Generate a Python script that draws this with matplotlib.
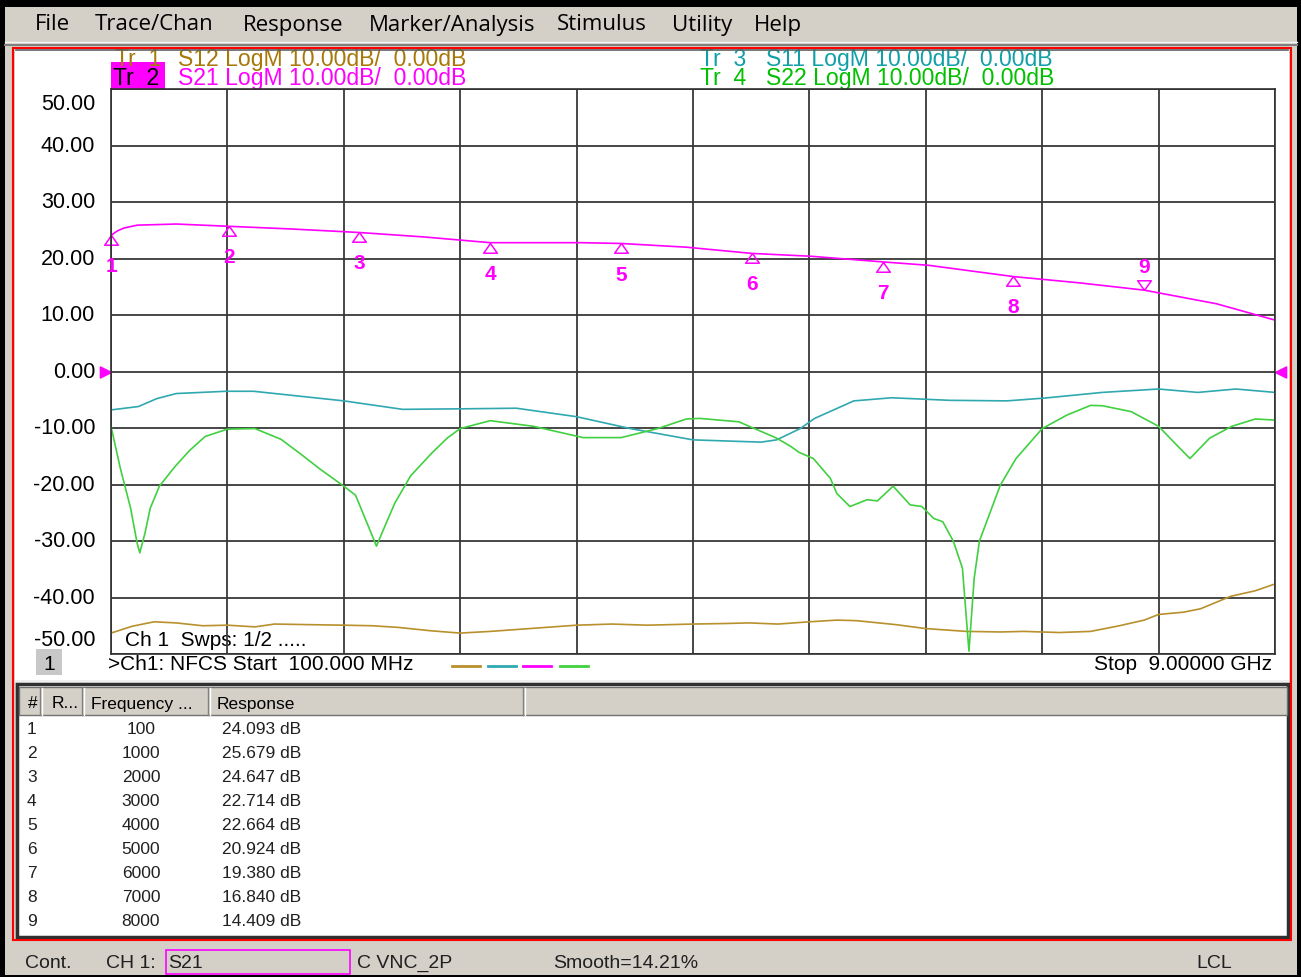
import matplotlib.pyplot as plt
from matplotlib.patches import Rectangle
from matplotlib.path import Path
import numpy as np

W, H = 1301, 978

# stimulus / scale
start_ghz = 0.1
stop_ghz = 9.0
ref_db = 0.0
db_per_div = 10.0
y_ticks = [50, 40, 30, 20, 10, 0, -10, -20, -30, -40, -50]

# S21 trace (magenta)
s21_ghz = [0.1, 0.15, 0.2, 0.3, 0.6, 1.0, 1.5, 2.0, 2.5, 2.8, 3.0, 3.7, 4.0, 4.5, 5.0, 5.45,
           6.0, 6.35, 7.0, 7.5, 8.0, 8.55, 9.0]
s21_db = [24.1, 24.9, 25.4, 25.9, 26.1, 25.7, 25.2, 24.6, 23.8, 23.2, 22.8, 22.8, 22.66, 22.0,
          20.9, 20.4, 19.4, 18.8, 16.8, 15.7, 14.4, 12.0, 9.1]

# S11 trace (teal)
s11_ghz = [0.1, 0.31, 0.45, 0.6, 0.98, 1.19, 1.88, 2.33, 2.8, 3.2, 3.66, 4.07, 4.55,
           5.07, 5.19, 5.37, 5.48, 5.78, 6.07, 6.51, 6.95, 7.24, 7.68, 8.11, 8.41, 8.7, 9.0]
s11_db = [-6.8, -6.2, -4.8, -3.9, -3.5, -3.5, -5.2, -6.7, -6.6, -6.5, -8.0, -10.1, -12.1,
          -12.5, -12.1, -10.1, -8.3, -5.2, -4.65, -5.1, -5.2, -4.7, -3.7, -3.1, -3.7, -3.1, -3.7]

# S22 trace (green)
s22_ghz = [0.1, 0.17, 0.25, 0.3, 0.32, 0.36, 0.4, 0.47, 0.59, 0.7, 0.82, 0.99, 1.2,
           1.4, 1.55, 1.7, 1.88, 1.97, 2.13, 2.19, 2.27, 2.39, 2.55, 2.67, 2.77, 3.0,
           3.33, 3.71, 4.0, 4.28, 4.5, 4.6, 4.9, 5.19, 5.3, 5.36, 5.47, 5.6, 5.65, 5.75,
           5.88, 5.96, 6.08, 6.21, 6.3, 6.39, 6.46, 6.54, 6.61, 6.66, 6.7, 6.74, 6.9,
           7.02, 7.22, 7.41, 7.59, 7.68, 7.9, 8.11, 8.26, 8.35, 8.5, 8.67, 8.85, 9.0]
s22_db = [-9.7, -17.0, -24.2, -30.4, -32.1, -28.6, -24.2, -20.3, -16.8, -14.0, -11.5, -10.2,
          -10.1, -12.0, -14.6, -17.3, -20.3, -21.9, -30.9, -27.6, -23.3, -18.5, -14.5, -11.8,
          -10.1, -8.7, -9.7, -11.7, -11.7, -10.1, -8.4, -8.3, -8.9, -11.8, -13.3, -14.3,
          -15.4, -18.9, -21.6, -23.9, -22.7, -22.9, -20.3, -23.6, -23.9, -26.0, -26.6, -30.0,
          -34.8, -49.5, -36.6, -30.0, -20.1, -15.4, -10.1, -7.7, -6.0, -6.06, -7.1, -9.7,
          -13.3, -15.4, -11.8, -9.7, -8.4, -8.6]

# S12 trace (brown)
s12_ghz = [0.1, 0.26, 0.43, 0.6, 0.8, 0.99, 1.2, 1.35, 1.6, 1.88, 2.1, 2.3, 2.55, 2.77,
           3.0, 3.3, 3.66, 3.93, 4.2, 4.55, 4.8, 4.98, 5.2, 5.44, 5.65, 5.8, 6.1, 6.33,
           6.64, 6.9, 7.08, 7.35, 7.59, 7.81, 8.0, 8.11, 8.3, 8.43, 8.66, 8.85, 9.0]
s12_db = [-46.3, -45.1, -44.3, -44.5, -45.0, -44.9, -45.2, -44.7, -44.8, -44.9, -45.0, -45.3,
          -45.9, -46.3, -46.0, -45.5, -44.9, -44.7, -44.9, -44.7, -44.6, -44.5, -44.7, -44.3,
          -44.0, -44.1, -44.8, -45.5, -46.0, -46.1, -46.0, -46.2, -46.0, -45.0, -44.0, -43.0,
          -42.6, -42.0, -39.8, -38.8, -37.6]

# markers on S21
marker_no = [1, 2, 3, 4, 5, 6, 7, 8, 9]
marker_mhz = [100, 1000, 2000, 3000, 4000, 5000, 6000, 7000, 8000]
marker_db = [24.093, 25.679, 24.647, 22.714, 22.664, 20.924, 19.380, 16.840, 14.409]
active_marker = 9

menu_items = ["File", "Trace/Chan", "Response", "Marker/Analysis", "Stimulus", "Utility", "Help"]
menu_x = [35, 95, 243, 369, 557, 672, 754]

ui_gray = '#d4d0c8'
magenta = '#ff00ff'
brown_hdr, brown_tr = '#a87808', '#b8902c'
teal_hdr, teal_tr = '#10a0a8', '#30a8b0'
green_hdr, green_tr = '#00c000', '#40d040'

sans = ['Liberation Sans', 'DejaVu Sans']

fig = plt.figure(figsize=(W / 100, H / 100), dpi=100)
fig.patch.set_facecolor('black')

bg = fig.add_axes([0, 0, 1, 1])
bg.set_xlim(0, W)
bg.set_ylim(H, 0)
bg.axis('off')


def box(x0, y0, x1, y1, fc='none', ec='none', lw=1.0, z=1):
    bg.add_patch(Rectangle((x0, y0), x1 - x0, y1 - y0, facecolor=fc, edgecolor=ec,
                           linewidth=lw, zorder=z))


# window chrome
box(5, 8, 1297, 976, fc=ui_gray, z=0.5)
box(15, 50, 1289, 681, fc='white', z=1)
box(15, 681, 1289, 684, fc='#eeeeee', z=1)
box(17, 685, 1288, 938, fc='white', ec='#303030', lw=2.5, z=1)
box(19, 688, 1287, 716, fc=ui_gray, ec='#707070', lw=1, z=1.2)
for xs in [40, 82, 208, 523]:
    bg.plot([xs, xs], [689, 716], color='#808080', lw=1, zorder=1.3)
    bg.plot([xs + 2, xs + 2], [689, 716], color='white', lw=1, zorder=1.3)

# menu bar
for name, x in zip(menu_items, menu_x):
    bg.text(x, 25, name, fontsize=16, family=['Open Sans', 'DejaVu Sans'],
            va='center', ha='left', color='black', zorder=7)

# trace headers (top row partly clipped by the panel edge)
hdr_fs = 16.6
bg.text(115, 66, "Tr  1", fontsize=hdr_fs, family=sans, color=brown_hdr, zorder=3)
bg.text(178, 66, "S12 LogM 10.00dB/  0.00dB", fontsize=hdr_fs, family=sans,
        color=brown_hdr, zorder=3)
bg.text(700, 66, "Tr  3", fontsize=hdr_fs, family=sans, color=teal_hdr, zorder=3)
bg.text(766, 66, "S11 LogM 10.00dB/  0.00dB", fontsize=hdr_fs, family=sans,
        color=teal_hdr, zorder=3)
box(111, 63, 165, 90, fc=magenta, z=2)
bg.text(113, 85, "Tr  2", fontsize=hdr_fs, family=sans, color='black', zorder=3)
bg.text(178, 85, "S21 LogM 10.00dB/  0.00dB", fontsize=hdr_fs, family=sans,
        color=magenta, zorder=3)
bg.text(700, 85, "Tr  4", fontsize=hdr_fs, family=sans, color=green_hdr, zorder=3)
bg.text(766, 85, "S22 LogM 10.00dB/  0.00dB", fontsize=hdr_fs, family=sans,
        color=green_hdr, zorder=3)

# top band over the header text, red frame
box(5, 8, 1297, 49, fc=ui_gray, z=5)
bg.plot([5, 1297], [43, 43], color='#f4f4f4', lw=1, zorder=5.5)
bg.plot([5, 1297], [46, 46], color='#808080', lw=1.5, zorder=5.5)
box(13, 48.5, 1291, 941, ec='#ff0000', lw=1.5, z=6)
bg.plot([16, 1288], [51, 51], color='#606060', lw=1.2, zorder=6)

# bottom of chart panel
box(36, 650, 62, 676, fc='#c8c8c8', z=2)
bg.text(49, 664, "1", fontsize=15, family=sans, ha='center', va='center', zorder=3)
bg.text(108, 664, ">Ch1: NFCS Start  100.000 MHz", fontsize=15, family=sans,
        va='center', zorder=3)
for c, x0 in zip([brown_tr, teal_tr, magenta, green_tr], [452, 488, 523, 560]):
    bg.plot([x0, x0 + 28], [667, 667], color=c, lw=2, zorder=3)
bg.text(1272, 664, "Stop  9.00000 GHz", fontsize=15, family=sans, ha='right',
        va='center', zorder=3)
bg.text(125, 641, "Ch 1  Swps: 1/2 .....", fontsize=15, family=sans, va='center', zorder=3)

# marker table
tfs = 12.5
bg.text(28, 704, "#", fontsize=tfs, family=sans, va='center', zorder=3)
bg.text(52, 704, "R...", fontsize=tfs, family=sans, va='center', zorder=3)
bg.text(91, 704, "Frequency ...", fontsize=tfs, family=sans, va='center', zorder=3)
bg.text(217, 704, "Response", fontsize=tfs, family=sans, va='center', zorder=3)
for i, (n, f, v) in enumerate(zip(marker_no, marker_mhz, marker_db)):
    yy = 730 + 24 * i
    bg.text(27, yy, str(n), fontsize=tfs, family=sans, va='center', color='#202020', zorder=3)
    bg.text(141, yy, str(f), fontsize=tfs, family=sans, va='center', ha='center',
            color='#202020', zorder=3)
    bg.text(222, yy, f"{v:.3f} dB", fontsize=tfs, family=sans, va='center',
            color='#202020', zorder=3)

# status bar
sfs = 14
bg.text(25, 963, "Cont.", fontsize=sfs, family=sans, va='center', color='#202020', zorder=7)
bg.text(106, 963, "CH 1:", fontsize=sfs, family=sans, va='center', color='#202020', zorder=7)
box(166, 951, 350, 975, ec=magenta, lw=1.2, z=7)
bg.text(168, 963, "S21", fontsize=sfs, family=sans, va='center', color='#202020', zorder=7)
bg.text(357, 963, "C VNC_2P", fontsize=sfs, family=sans, va='center', color='#202020', zorder=7)
bg.text(553, 963, "Smooth=14.21%", fontsize=sfs, family=sans, va='center',
        color='#202020', zorder=7)
bg.text(1196, 963, "LCL", fontsize=sfs, family=sans, va='center', color='#202020', zorder=7)

# data axes
ax = fig.add_axes([111 / W, 1 - 655 / H, 1164 / W, 565 / H])
ax.set_facecolor('none')
ax.set_xlim(start_ghz, stop_ghz)
ax.set_ylim(ref_db - 5 * db_per_div, ref_db + 5 * db_per_div)
ax.set_xticks(np.linspace(start_ghz, stop_ghz, 11))
ax.set_yticks(np.linspace(ref_db - 5 * db_per_div, ref_db + 5 * db_per_div, 11))
ax.tick_params(length=0, labelbottom=False, labelleft=False)
ax.grid(True, color='#383838', lw=1.3)
for s in ax.spines.values():
    s.set_color('#303030')
    s.set_linewidth(1.2)

for v in y_ticks:
    ypos = max(min(v, 47.5), -47.5)
    ax.text(-16 / 1164, ypos, f"{v:.2f}", transform=ax.get_yaxis_transform(),
            ha='right', va='center', fontsize=15.5, family=sans)

ax.plot(s12_ghz, s12_db, color=brown_tr, lw=1.2)
ax.plot(s11_ghz, s11_db, color=teal_tr, lw=1.2)
ax.plot(s22_ghz, s22_db, color=green_tr, lw=1.2)
ax.plot(s21_ghz, s21_db, color=magenta, lw=1.2)

# reference level pointers
left_tri = Path([(0, 0), (-1, 0.5), (-1, -0.5), (0, 0)])
right_tri = Path([(0, 0), (1, 0.5), (1, -0.5), (0, 0)])
ax.plot([start_ghz], [ref_db], marker=left_tri, ms=16, color=magenta, clip_on=False)
ax.plot([stop_ghz], [ref_db], marker=right_tri, ms=16, color=magenta, clip_on=False)

# S21 markers
up_tri = Path([(0, 0), (-0.7, -1), (0.7, -1), (0, 0)])
down_tri = Path([(0, 0), (-0.7, 1), (0.7, 1), (0, 0)])
for n, f, v in zip(marker_no, marker_mhz, marker_db):
    fg = f / 1000
    if n == active_marker:
        ax.plot([fg], [v], marker=down_tri, ms=14, mfc='none', mec=magenta, mew=1.1,
                clip_on=False)
        ax.annotate(str(n), (fg, v), xytext=(0, 17), textcoords='offset points',
                    ha='center', va='center', color=magenta, fontsize=15,
                    fontweight='bold', family=sans)
    else:
        ax.plot([fg], [v], marker=up_tri, ms=14, mfc='none', mec=magenta, mew=1.1,
                clip_on=False)
        ax.annotate(str(n), (fg, v), xytext=(0, -22), textcoords='offset points',
                    ha='center', va='center', color=magenta, fontsize=15,
                    fontweight='bold', family=sans)

fig.savefig("out.png", dpi=100, facecolor=fig.get_facecolor())
